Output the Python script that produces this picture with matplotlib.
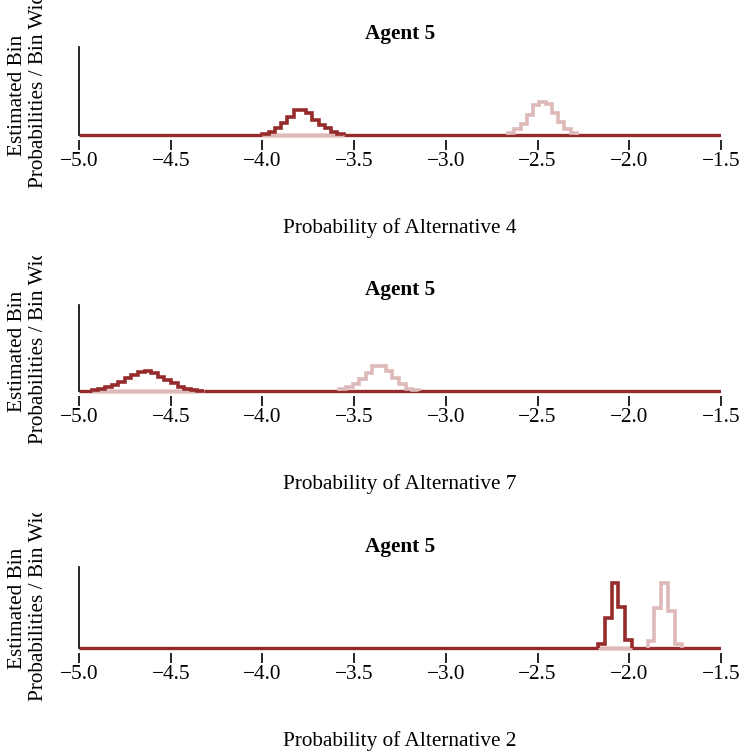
import numpy as np
import matplotlib
matplotlib.use("Agg")
import matplotlib.pyplot as plt
from matplotlib.transforms import Bbox

plt.rcParams["font.family"] = ["Liberation Serif", "DejaVu Serif"]

# ---- data -------------------------------------------------------------
titles = ["Agent 5", "Agent 5", "Agent 5"]
xlabels = ["Probability of Alternative 4",
           "Probability of Alternative 7",
           "Probability of Alternative 2"]
xticks = [-5.0, -4.5, -4.0, -3.5, -3.0, -2.5, -2.0, -1.5]
xtick_labels = ["\u22125.0", "\u22124.5", "\u22124.0", "\u22123.5",
                "\u22123.0", "\u22122.5", "\u22122.0", "\u22121.5"]

# estimated bin probability / bin width, one histogram per option
alt4_first_start, alt4_first_width = -4.00, 0.034
alt4_first = [0.13, 0.50, 1.24, 2.16, 3.39, 4.63, 4.63, 4.01, 2.78, 1.85, 1.24, 0.50, 0.13]
alt4_second_start, alt4_second_width = -2.66, 0.034
alt4_second = [0.46, 1.11, 2.04, 3.70, 5.55, 6.11, 5.74, 4.07, 2.41, 1.11, 0.37]

alt7_first_start, alt7_first_width = -4.93, 0.036
alt7_first = [0.19, 0.37, 0.65, 1.11, 1.67, 2.41, 2.96, 3.52, 3.70, 3.33, 2.68, 2.04,
              1.39, 0.83, 0.46, 0.19, 0.09]
alt7_second_start, alt7_second_width = -3.58, 0.036
alt7_second = [0.31, 0.80, 1.30, 2.22, 3.33, 4.63, 4.63, 3.70, 2.41, 1.24, 0.43, 0.13]

alt2_first_start, alt2_first_width = -2.17, 0.037
alt2_first = [0.83, 5.55, 12.03, 7.59, 1.39]
alt2_second_start, alt2_second_width = -1.90, 0.037
alt2_second = [1.30, 7.40, 12.03, 6.85, 0.74]

axis_tops = [16.3, 16.0, 15.0]

panels = [
    (alt4_first_start, alt4_first_width, alt4_first,
     alt4_second_start, alt4_second_width, alt4_second),
    (alt7_first_start, alt7_first_width, alt7_first,
     alt7_second_start, alt7_second_width, alt7_second),
    (alt2_first_start, alt2_first_width, alt2_first,
     alt2_second_start, alt2_second_width, alt2_second),
]

# ---- style ------------------------------------------------------------
DARK = "#962B2B"
LIGHT = "#DDB9B9"
FS = 15.3
W, H = 741, 751
X0, X1 = -5.0, -1.5
YPX = 0.185          # density units per pixel
baselines = [135, 391, 648]
panel_tops = [0, 256, 513]
CX = 400             # horizontal centre of the plotting region, px

fig = plt.figure(figsize=(W / 100, H / 100), dpi=100)


def fx(px):
    return px / W


def fy(py):
    return 1 - py / H


for i, (s1, w1, h1, s2, w2, h2) in enumerate(panels):
    b = baselines[i]
    top_px, bot_px = b - 95, b + 5
    ax = fig.add_axes([fx(79), fy(bot_px), fx(721) - fx(79), (bot_px - top_px) / H])
    ax.set_xlim(X0, X1)
    ax.set_ylim(-5 * YPX, 95 * YPX)

    e1 = s1 + w1 * np.arange(len(h1) + 1)
    e2 = s2 + w2 * np.arange(len(h2) + 1)

    ax.plot([X0, X1], [0, 0], color=DARK, lw=2.4, solid_capstyle="butt", zorder=2)
    ax.plot([e1[0], e1[-1]], [0, 0], color=LIGHT, lw=2.4, solid_capstyle="butt", zorder=3)
    ax.stairs(h2, e2, baseline=0, color=LIGHT, lw=2.6, zorder=4)
    ax.stairs(h1, e1, baseline=0, color=DARK, lw=2.6, zorder=5)

    for side in ("top", "right", "bottom"):
        ax.spines[side].set_visible(False)
    ax.spines["left"].set_bounds(0, axis_tops[i])
    ax.spines["left"].set_linewidth(1.2)
    ax.set_yticks([])
    ax.set_xticks(xticks)
    ax.set_xticklabels(xtick_labels, fontsize=FS)
    ax.tick_params(axis="x", length=7.5, width=1.2, pad=1)

    fig.text(fx(CX), fy(b - 103 + 2), titles[i], ha="center", va="center",
             fontsize=FS, fontweight="bold")
    fig.text(fx(CX), fy(b + 93), xlabels[i], ha="center", va="center", fontsize=FS)

    clip = Bbox.from_extents(0, (1 - (panel_tops[i] + 256) / H) * H, W,
                             (1 - panel_tops[i] / H) * H)
    for txt, xpx, ypx in (("Estimated Bin", 18, b - 40),
                          ("Probabilities / Bin Width", 39, b - 53)):
        t = fig.text(fx(xpx), fy(ypx), txt, rotation=90, ha="center", va="center",
                     fontsize=FS)
        t.set_clip_box(clip)
        t.set_clip_on(True)

fig.savefig("out.png", dpi=100)
